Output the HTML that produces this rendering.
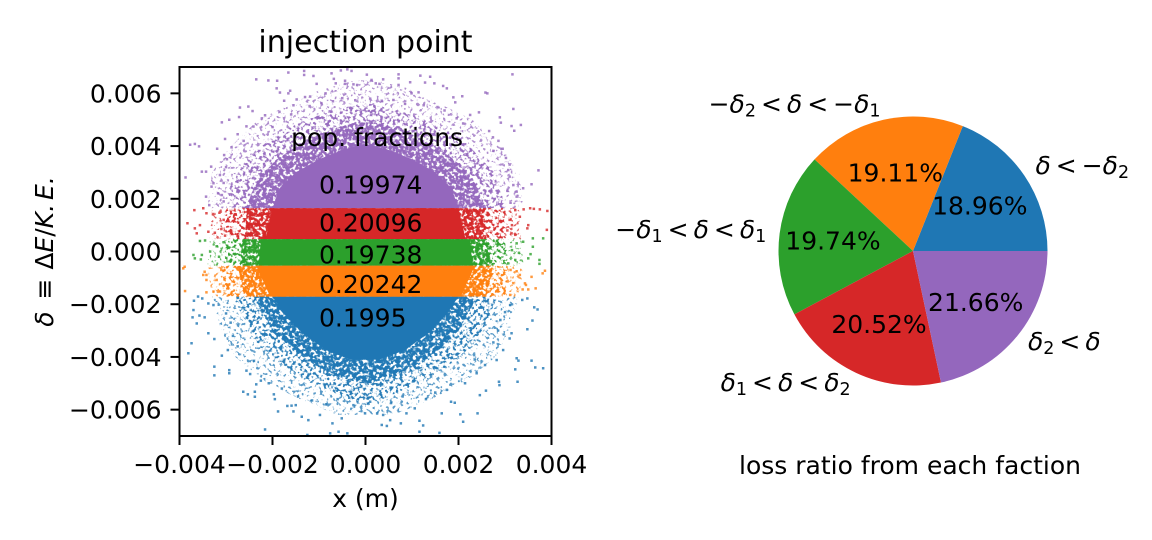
<!DOCTYPE html>
<html lang="en">
<head>
<meta charset="utf-8">
<title>Injection point and loss ratio</title>
<style>
html,body{margin:0;padding:0;background:#fff;}
svg{display:block;}
text{font-family:"DejaVu Sans","Liberation Sans",sans-serif;fill:#000;}
</style>
</head>
<body>
<svg id="figure" xmlns="http://www.w3.org/2000/svg" width="1152" height="540" viewBox="0 0 1152 540">
  <defs>
    <clipPath id="plot-clip"><rect x="179.5" y="67" width="372" height="369"/></clipPath>
    <filter id="stipple-dense" x="0" y="0" width="1" height="1" color-interpolation-filters="sRGB">
      <feTurbulence type="fractalNoise" baseFrequency="0.3" numOctaves="2" seed="7" result="n"/>
      <feColorMatrix in="n" type="matrix" values="0 0 0 0 0  0 0 0 0 0  0 0 0 0 0  7 0 0 0 -2.4" result="m"/>
      <feComposite in="SourceGraphic" in2="m" operator="in"/>
    </filter>
    <filter id="stipple-mid" x="0" y="0" width="1" height="1" color-interpolation-filters="sRGB">
      <feTurbulence type="fractalNoise" baseFrequency="0.3" numOctaves="2" seed="7" result="n"/>
      <feColorMatrix in="n" type="matrix" values="0 0 0 0 0  0 0 0 0 0  0 0 0 0 0  8 0 0 0 -3.9" result="m"/>
      <feComposite in="SourceGraphic" in2="m" operator="in"/>
    </filter>
    <filter id="stipple-sparse" x="0" y="0" width="1" height="1" color-interpolation-filters="sRGB">
      <feTurbulence type="fractalNoise" baseFrequency="0.3" numOctaves="2" seed="7" result="n"/>
      <feColorMatrix in="n" type="matrix" values="0 0 0 0 0  0 0 0 0 0  0 0 0 0 0  9 0 0 0 -5.1" result="m"/>
      <feComposite in="SourceGraphic" in2="m" operator="in"/>
    </filter>
  </defs>
  <g id="scatter-layer" clip-path="url(#plot-clip)"></g>
  <g id="scatter-axes"></g>
  <g id="pie-layer"></g>
  <text x="365.5" y="52" font-size="30" text-anchor="middle">injection point</text>
  <text x="365.5" y="507" font-size="25" text-anchor="middle">x (m)</text>
  <text transform="translate(53,251.5) rotate(-90)" font-size="25" text-anchor="middle"><tspan font-style="italic">δ</tspan><tspan dx="4"> ≡ </tspan><tspan dx="1">Δ</tspan><tspan font-style="italic">E</tspan>/<tspan font-style="italic">K.</tspan><tspan dx="4" font-style="italic">E.</tspan></text>
  <text x="910" y="474" font-size="25" text-anchor="middle">loss ratio from each faction</text>
</svg>
<script>
// ---------- scatter data (both axes in units of 1e-3) ----------
const xTicks = [-4, -2, 0, 2, 4];
const yTicks = [-6, -4, -2, 0, 2, 4, 6];
const fractionValues = ["0.19974", "0.20096", "0.19738", "0.20242", "0.1995"];
const fractionDeltas = [2.2, 0.75, -0.45, -1.58, -2.85];

// Cloud extents: half-width of each density tier at a given delta
const purpleCoreDelta = [1.64, 2.4, 3.0, 3.5, 3.85, 4.05];
const purpleCoreHalf = [2.0, 1.85, 1.5, 1.0, 0.5, 0.1];
const purpleDenseDelta = [1.64, 2.8, 3.5, 4.1, 4.6, 4.9];
const purpleDenseHalf = [2.6, 2.3, 1.9, 1.4, 0.8, 0.2];
const purpleMidDelta = [1.64, 2.8, 3.5, 4.3, 4.9, 5.3, 5.6];
const purpleMidHalf = [3.0, 2.85, 2.5, 2.05, 1.4, 0.8, 0.1];
const purpleSparseDelta = [1.64, 3.0, 4.0, 5.0, 5.6, 6.2, 6.5];
const purpleSparseHalf = [3.4, 3.3, 2.9, 2.3, 1.6, 0.9, 0.2];

const redCoreDelta = [0.47, 1.64];
const redCoreHalf = [2.15, 2.0];
const redDenseDelta = [0.47, 1.64];
const redDenseHalf = [2.6, 2.55];
const redMidDelta = [0.47, 1.64];
const redMidHalf = [3.0, 3.0];
const redSparseDelta = [0.47, 1.64];
const redSparseHalf = [3.35, 3.3];

const greenCoreDelta = [-0.54, 0.47];
const greenCoreHalf = [2.3, 2.25];
const greenDenseDelta = [-0.54, 0.47];
const greenDenseHalf = [2.7, 2.65];
const greenMidDelta = [-0.54, 0.47];
const greenMidHalf = [3.05, 3.0];
const greenSparseDelta = [-0.54, 0.47];
const greenSparseHalf = [3.4, 3.35];

const orangeCoreDelta = [-1.71, -0.54];
const orangeCoreHalf = [2.05, 2.35];
const orangeDenseDelta = [-1.71, -0.54];
const orangeDenseHalf = [2.6, 2.75];
const orangeMidDelta = [-1.71, -0.54];
const orangeMidHalf = [3.0, 3.1];
const orangeSparseDelta = [-1.71, -0.54];
const orangeSparseHalf = [3.3, 3.4];

const blueCoreDelta = [-1.71, -2.47, -3.1, -3.74, -4.1];
const blueCoreHalf = [2.0, 1.7, 1.35, 0.85, 0.3];
const blueDenseDelta = [-1.71, -3.0, -3.7, -4.3, -4.8, -5.0];
const blueDenseHalf = [2.4, 2.0, 1.6, 1.1, 0.5, 0.1];
const blueMidDelta = [-1.71, -3.0, -3.74, -4.4, -5.0, -5.5, -5.8];
const blueMidHalf = [2.85, 2.5, 2.2, 1.7, 1.1, 0.5, 0.05];
const blueSparseDelta = [-1.71, -3.0, -4.0, -5.0, -5.7, -6.2];
const blueSparseHalf = [3.3, 3.1, 2.8, 2.1, 1.3, 0.6];

const purplePoints = [[-2.35,6.53],[-2.09,6.49],[-1.9,6.48],[-1.66,6.79],[-1.32,6.85],[-1.32,6.7],[-1.12,6.66],[-0.73,6.76],[-0.53,6.87],[-0.39,6.91],[-0.3,6.85],[0.03,6.71],[0.71,6.72],[0.71,6.57],[0.71,6.32],[1.18,6.67],[1.39,6.63],[3.16,6.72],[-0.68,6.55],[-0.64,6.38],[-0.44,6.48],[-0.44,6.36],[-0.26,6.34],[-0.18,6.32],[0.13,6.51],[0.22,6.38],[0.3,6.36],[0.38,6.53],[0.96,6.42],[1.28,6.41],[1.48,6.38],[1.67,6.28],[1.75,6.19],[-1.91,6.19],[-1.84,6.03],[-1.62,6.1],[-1.66,6.0],[-1.05,6.36],[-0.86,6.0],[-1.19,5.88],[-1.48,5.77],[-1.75,5.72],[-1.3,5.86],[1.14,6.04],[0.99,6.0],[2.58,6.03],[2.62,6.0],[2.08,5.89],[1.89,5.85],[1.93,5.66],[3.18,5.41],[-2.52,5.5],[-2.7,5.46],[-2.43,5.33],[-3.09,4.9],[-2.93,5.0],[-2.72,5.1],[-2.16,5.17],[-2.23,5.05],[-2.56,4.75],[-2.41,4.74],[-3.67,4.08],[-3.77,4.05],[-3.58,3.99],[-3.19,3.9],[-3.04,3.66],[-3.02,4.27],[-3.87,2.81],[-3.52,3.03],[-3.43,3.03],[-3.32,3.22],[-3.13,2.9],[-3.27,2.59],[-3.31,2.46],[-3.17,2.21],[-3.09,2.14],[-3.43,2.08],[-3.36,1.76],[3.72,3.08],[3.57,2.55],[3.39,2.4],[3.25,2.27],[3.25,2.08],[3.18,2.52],[3.1,2.84],[3.07,3.09],[3.34,4.8],[3.14,4.76],[3.2,4.58],[2.89,5.09],[2.91,4.89],[2.66,4.57],[2.74,4.33],[2.44,5.28],[2.25,5.18],[2.1,4.86],[1.96,5.05],[-1.55,5.55],[-1.2,5.52],[-0.95,5.63],[-0.7,5.7],[-0.5,5.82],[-0.22,5.74],[0.1,5.8],[0.35,5.72],[0.6,5.75],[0.85,5.6],[1.25,5.55],[1.55,5.48],[1.7,5.35],[-1.85,5.3],[-1.6,5.2],[-2.0,4.72],[-2.75,4.45],[-2.62,4.2],[-2.88,3.95],[-2.98,3.5],[2.86,4.2],[2.95,3.9],[3.02,3.55],[3.1,3.3],[2.75,3.82],[-3.0,3.2],[-3.05,2.6],[-3.05,1.9],[3.05,2.3],[3.12,1.85]];

const redPoints = [[-3.83,1.07],[-3.68,1.57],[-3.67,0.88],[-3.63,0.69],[-3.49,1.64],[-3.42,1.45],[-3.27,1.42],[-3.14,1.47],[-3.38,0.75],[-3.24,0.71],[-3.56,1.0],[-3.05,1.2],[-3.1,0.85],[-3.02,0.6],[3.91,1.54],[3.75,1.6],[3.54,1.64],[3.62,1.62],[3.5,1.0],[3.48,0.88],[3.9,0.82],[3.32,1.32],[3.22,1.57],[3.22,0.63],[3.14,0.69],[3.4,1.6],[3.1,1.2],[3.15,1.0],[3.05,0.8]];

const greenPoints = [[-3.56,0.4],[-3.45,0.42],[-3.7,-0.13],[-3.67,-0.26],[-3.52,-0.13],[-3.54,-0.3],[-3.34,0.0],[-3.2,0.2],[-3.15,-0.2],[-3.05,0.35],[3.74,-0.32],[3.74,-0.47],[3.55,-0.1],[3.5,-0.26],[3.82,0.5],[3.6,0.5],[3.6,0.18],[3.39,0.37],[3.25,0.31],[3.22,-0.32],[3.07,-0.45],[3.15,0.05],[3.3,-0.05]];

const orangePoints = [[-3.92,-0.64],[-3.89,-0.58],[-3.88,-1.5],[-3.27,-1.52],[-3.42,-1.55],[-3.13,-1.52],[-3.46,-0.77],[-3.42,-0.89],[-3.49,-0.89],[-3.42,-1.08],[-3.2,-1.08],[-3.1,-0.7],[-3.05,-1.3],[3.86,-0.73],[3.81,-0.83],[3.57,-0.96],[3.43,-1.21],[3.45,-1.27],[3.38,-1.44],[3.5,-1.44],[3.66,-1.4],[3.25,-0.75],[3.18,-1.2],[3.32,-0.89],[3.11,-1.65],[3.12,-0.7]];

const bluePoints = [[-3.69,-1.87],[-3.6,-1.71],[-3.51,-1.78],[-3.38,-1.97],[-3.27,-2.03],[-3.7,-2.22],[-3.72,-2.5],[-3.57,-2.43],[-3.46,-2.5],[-3.63,-2.73],[-3.38,-3.1],[-3.25,-3.32],[-3.74,-3.48],[-3.81,-3.86],[-3.09,-3.95],[-2.96,-3.74],[-3.25,-4.37],[-3.25,-4.7],[-2.93,-4.5],[-2.93,-4.62],[-2.56,-4.52],[-2.48,-4.65],[-2.63,-5.32],[-2.53,-5.42],[-2.35,-5.04],[-2.38,-5.32],[-2.38,-5.51],[-2.16,-6.75],[-2.08,-5.0],[-1.97,-5.42],[-1.95,-5.6],[-1.88,-6.07],[-1.68,-5.86],[-1.59,-5.85],[-1.5,-5.83],[-1.55,-6.07],[-1.37,-6.27],[-1.23,-6.4],[-1.25,-6.96],[-0.98,-6.2],[-0.76,-6.9],[-0.71,-6.52],[-0.58,-6.84],[-0.51,-6.33],[-0.39,-6.9],[-0.26,-5.83],[-0.01,-6.14],[0.25,-6.14],[0.38,-6.2],[0.35,-6.58],[0.46,-6.62],[0.53,-6.4],[0.76,-6.52],[0.88,-6.14],[1.16,-6.42],[1.16,-6.84],[1.24,-6.6],[1.59,-6.88],[1.64,-6.14],[1.06,-5.95],[2.1,-6.46],[2.04,-6.18],[2.41,-6.14],[1.84,-5.7],[1.92,-5.74],[2.46,-5.45],[2.59,-5.28],[2.87,-4.94],[2.88,-5.07],[3.27,-4.94],[3.22,-4.47],[3.57,-4.14],[3.65,-4.4],[3.82,-4.43],[3.25,-4.05],[3.29,-4.14],[3.48,-2.95],[3.59,-2.62],[3.63,-2.12],[3.7,-2.2],[3.37,-1.84],[3.48,-1.78],[3.11,-2.03],[3.14,-3.1],[3.1,-3.3],[2.96,-3.74],[2.82,-4.12],[2.57,-4.31],[2.39,-4.62],[2.14,-5.0],[-1.8,-5.2],[-1.45,-5.5],[-1.15,-5.65],[-0.85,-5.8],[-0.6,-5.6],[-0.35,-5.55],[0.1,-5.7],[0.55,-5.75],[0.8,-5.5],[1.3,-5.6],[1.5,-5.35],[1.75,-5.25],[-2.25,-4.9],[-2.75,-3.6],[-2.85,-3.2],[-2.9,-2.7],[-3.0,-2.35],[2.75,-3.45],[2.85,-3.0],[2.9,-2.6],[3.0,-2.3],[2.35,-4.1],[-2.4,-4.15]];

// ---------- pie data ----------
const pieShares = [18.96, 19.11, 19.74, 20.52, 21.66];
const piePercentLabels = ["18.96%", "19.11%", "19.74%", "20.52%", "21.66%"];
const pieLabels = [
  '<tspan font-style="italic">δ</tspan><tspan dx="5">&lt;</tspan><tspan dx="5">−</tspan><tspan font-style="italic">δ</tspan><tspan dy="4" font-size="17.5">2</tspan>',
  '−<tspan font-style="italic">δ</tspan><tspan dy="4" font-size="17.5">2</tspan><tspan dy="-4" dx="5">&lt;</tspan><tspan dx="5" font-style="italic">δ</tspan><tspan dx="5">&lt;</tspan><tspan dx="5">−</tspan><tspan font-style="italic">δ</tspan><tspan dy="4" font-size="17.5">1</tspan>',
  '−<tspan font-style="italic">δ</tspan><tspan dy="4" font-size="17.5">1</tspan><tspan dy="-4" dx="5">&lt;</tspan><tspan dx="5" font-style="italic">δ</tspan><tspan dx="5">&lt;</tspan><tspan dx="5" font-style="italic">δ</tspan><tspan dy="4" font-size="17.5">1</tspan>',
  '<tspan font-style="italic">δ</tspan><tspan dy="4" font-size="17.5">1</tspan><tspan dy="-4" dx="5">&lt;</tspan><tspan dx="5" font-style="italic">δ</tspan><tspan dx="5">&lt;</tspan><tspan dx="5" font-style="italic">δ</tspan><tspan dy="4" font-size="17.5">2</tspan>',
  '<tspan font-style="italic">δ</tspan><tspan dy="4" font-size="17.5">2</tspan><tspan dy="-4" dx="5">&lt;</tspan><tspan dx="5" font-style="italic">δ</tspan>'
];
const pieColors = ["#1f77b4", "#ff7f0e", "#2ca02c", "#d62728", "#9467bd"];

// ---------- helpers ----------
const SVG_NS = "http://www.w3.org/2000/svg";
const PLOT = {left: 179.5, right: 551.5, top: 67, bottom: 436, xMin: -4, xMax: 4, yMin: -7, yMax: 7};
const PIE = {cx: 913, cy: 251, r: 134.5};
function xScale(v) { return PLOT.left + (v - PLOT.xMin) / (PLOT.xMax - PLOT.xMin) * (PLOT.right - PLOT.left); }
function yScale(v) { return PLOT.bottom - (v - PLOT.yMin) / (PLOT.yMax - PLOT.yMin) * (PLOT.bottom - PLOT.top); }
function make(tag, parent) { const el = document.createElementNS(SVG_NS, tag); parent.appendChild(el); return el; }
function formatTick(v, digits) { const s = Math.abs(v / 1000).toFixed(digits); return (v < 0 ? "−" : "") + s; }

function profilePath(deltas, halves) {
  let right = "", left = "";
  deltas.forEach(function (d, i) {
    right += (i ? "L" : "M") + xScale(halves[i]).toFixed(1) + " " + yScale(d).toFixed(1);
  });
  for (let i = deltas.length - 1; i >= 0; i--) {
    left += "L" + xScale(-halves[i]).toFixed(1) + " " + yScale(deltas[i]).toFixed(1);
  }
  return right + left + "Z";
}

function drawTier(group, name, color, deltas, halves, filterId, opacity) {
  const tier = make("path", group);
  
  
  tier.setAttribute("d", profilePath(deltas, halves));
  tier.setAttribute("fill", color);
  tier.setAttribute("fill-opacity", opacity);
  if (filterId) tier.setAttribute("filter", "url(#" + filterId + ")");
}

function drawSeries(name, color, sparseD, sparseH, midD, midH, denseD, denseH, coreD, coreH, points) {
  const layer = document.getElementById("scatter-layer");
  const group = make("g", layer);
  
  
  drawTier(group, name + "-sparse-scatter", color, sparseD, sparseH, "stipple-sparse", "0.75");
  drawTier(group, name + "-mid-scatter", color, midD, midH, "stipple-mid", "0.85");
  drawTier(group, name + "-dense-scatter", color, denseD, denseH, "stipple-dense", "0.95");
  drawTier(group, name + "-core", color, coreD, coreH, null, "1");
  points.forEach(function (p) {
    const dot = make("rect", group);
    
    
    dot.setAttribute("x", (xScale(p[0]) - 1.25).toFixed(1));
    dot.setAttribute("y", (yScale(p[1]) - 1.25).toFixed(1));
    dot.setAttribute("width", "2.5");
    dot.setAttribute("height", "2.5");
    dot.setAttribute("fill", color);
    dot.setAttribute("fill-opacity", "0.8");
  });
}

drawSeries("purple", "#9467bd", purpleSparseDelta, purpleSparseHalf, purpleMidDelta, purpleMidHalf, purpleDenseDelta, purpleDenseHalf, purpleCoreDelta, purpleCoreHalf, purplePoints);
drawSeries("blue", "#1f77b4", blueSparseDelta, blueSparseHalf, blueMidDelta, blueMidHalf, blueDenseDelta, blueDenseHalf, blueCoreDelta, blueCoreHalf, bluePoints);
drawSeries("red", "#d62728", redSparseDelta, redSparseHalf, redMidDelta, redMidHalf, redDenseDelta, redDenseHalf, redCoreDelta, redCoreHalf, redPoints);
drawSeries("green", "#2ca02c", greenSparseDelta, greenSparseHalf, greenMidDelta, greenMidHalf, greenDenseDelta, greenDenseHalf, greenCoreDelta, greenCoreHalf, greenPoints);
drawSeries("orange", "#ff7f0e", orangeSparseDelta, orangeSparseHalf, orangeMidDelta, orangeMidHalf, orangeDenseDelta, orangeDenseHalf, orangeCoreDelta, orangeCoreHalf, orangePoints);

// ---------- axes ----------
(function () {
  const axes = document.getElementById("scatter-axes");
  const frame = make("rect", axes);
  
  
  frame.setAttribute("x", PLOT.left);
  frame.setAttribute("y", PLOT.top);
  frame.setAttribute("width", PLOT.right - PLOT.left);
  frame.setAttribute("height", PLOT.bottom - PLOT.top);
  frame.setAttribute("fill", "none");
  frame.setAttribute("stroke", "#000");
  frame.setAttribute("stroke-width", "2");

  xTicks.forEach(function (t) {
    const mark = make("line", axes);
    
    
    mark.setAttribute("x1", xScale(t));
    mark.setAttribute("x2", xScale(t));
    mark.setAttribute("y1", PLOT.bottom);
    mark.setAttribute("y2", PLOT.bottom + 9);
    mark.setAttribute("stroke", "#000");
    mark.setAttribute("stroke-width", "2");
    const label = make("text", axes);
    
    
    label.setAttribute("x", xScale(t));
    label.setAttribute("y", PLOT.bottom + 37);
    label.setAttribute("font-size", "25");
    label.setAttribute("text-anchor", "middle");
    label.textContent = formatTick(t, 3);
  });

  yTicks.forEach(function (t) {
    const mark = make("line", axes);
    
    
    mark.setAttribute("x1", PLOT.left - 9);
    mark.setAttribute("x2", PLOT.left);
    mark.setAttribute("y1", yScale(t));
    mark.setAttribute("y2", yScale(t));
    mark.setAttribute("stroke", "#000");
    mark.setAttribute("stroke-width", "2");
    const label = make("text", axes);
    
    
    label.setAttribute("x", PLOT.left - 18);
    label.setAttribute("y", yScale(t) + 9);
    label.setAttribute("font-size", "25");
    label.setAttribute("text-anchor", "end");
    label.textContent = formatTick(t, 3);
  });

  const header = make("text", axes);
  
  
  header.setAttribute("x", xScale(-1.6));
  header.setAttribute("y", yScale(4));
  header.setAttribute("font-size", "25");
  header.textContent = "pop. fractions";

  fractionValues.forEach(function (v, i) {
    const label = make("text", axes);
    
    
    label.setAttribute("x", xScale(-1));
    label.setAttribute("y", yScale(fractionDeltas[i]));
    label.setAttribute("font-size", "25");
    label.textContent = v;
  });
})();

// ---------- pie ----------
(function () {
  const layer = document.getElementById("pie-layer");
  const total = pieShares.reduce(function (a, b) { return a + b; }, 0);
  let start = 0;
  const pct = [];
  pieShares.forEach(function (share, i) {
    const sweep = share / total * 2 * Math.PI;
    const end = start + sweep;
    const mid = start + sweep / 2;
    const slice = make("path", layer);
    
    
    const x0 = PIE.cx + PIE.r * Math.cos(start), y0 = PIE.cy - PIE.r * Math.sin(start);
    const x1 = PIE.cx + PIE.r * Math.cos(end), y1 = PIE.cy - PIE.r * Math.sin(end);
    slice.setAttribute("d", "M" + PIE.cx + " " + PIE.cy + "L" + x0 + " " + y0 + "A" + PIE.r + " " + PIE.r + " 0 " + (sweep > Math.PI ? 1 : 0) + " 0 " + x1 + " " + y1 + "Z");
    slice.setAttribute("fill", pieColors[i]);
    pct.push({mid: mid, text: piePercentLabels[i]});

    const label = make("text", layer);
    
    
    label.setAttribute("x", PIE.cx + 1.1 * PIE.r * Math.cos(mid));
    label.setAttribute("y", PIE.cy - 1.1 * PIE.r * Math.sin(mid) + 6);
    label.setAttribute("font-size", "25");
    label.setAttribute("text-anchor", Math.cos(mid) >= 0 ? "start" : "end");
    label.innerHTML = pieLabels[i];
    start = end;
  });
  pct.forEach(function (p) {
    const label = make("text", layer);
    
    
    label.setAttribute("x", PIE.cx + 0.6 * PIE.r * Math.cos(p.mid));
    label.setAttribute("y", PIE.cy - 0.6 * PIE.r * Math.sin(p.mid) + 9);
    label.setAttribute("font-size", "25");
    label.setAttribute("text-anchor", "middle");
    label.textContent = p.text;
  });
})();
</script>
</body>
</html>
